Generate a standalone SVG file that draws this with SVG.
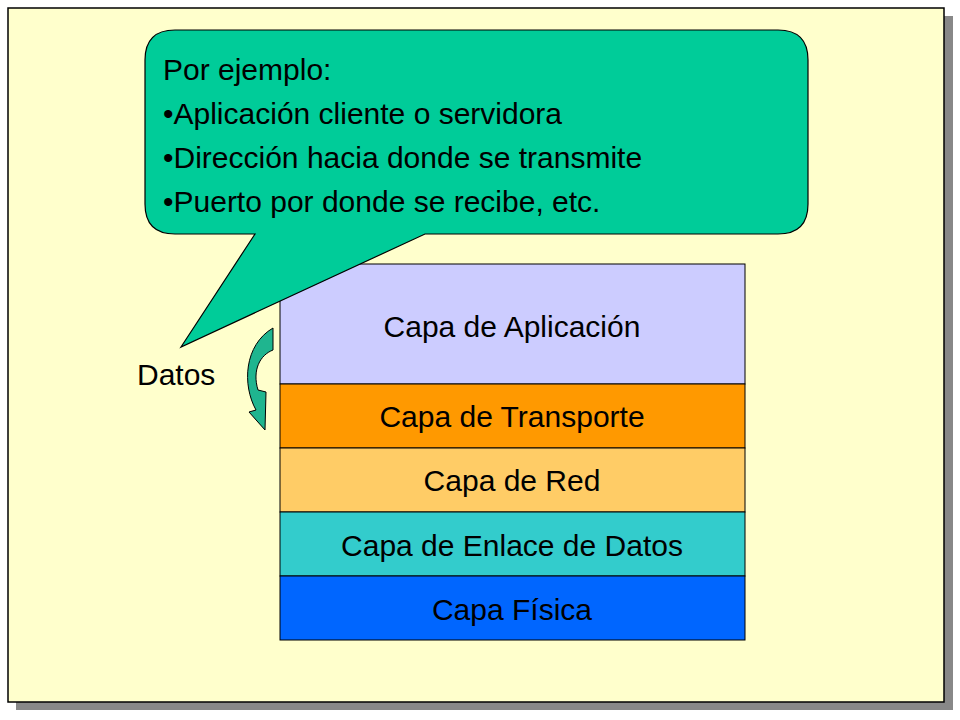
<svg xmlns="http://www.w3.org/2000/svg" width="960" height="720" viewBox="0 0 960 720">
<style>
text{font-family:"Liberation Sans",Arial,sans-serif;font-size:30px;fill:#000}
.layer{stroke:#000;stroke-width:1}
.c{text-anchor:middle}
</style>
<rect width="960" height="720" fill="#fff"/>
<rect x="16" y="16" width="937" height="694" fill="#888"/>
<rect id="frame" x="8" y="8" width="936" height="694" fill="#FFFFCC" stroke="#000" stroke-width="1.5"/>
<g id="stack">
<g id="aplicacion"><rect class="layer" x="280" y="264" width="465" height="120" fill="#CCCCFF"/><text class="c" x="512" y="337">Capa de Aplicación</text></g>
<g id="transporte"><rect class="layer" x="280" y="384" width="465" height="64" fill="#FF9900"/><text class="c" x="512" y="427">Capa de Transporte</text></g>
<g id="red"><rect class="layer" x="280" y="448" width="465" height="64" fill="#FFCC66"/><text class="c" x="512" y="491">Capa de Red</text></g>
<g id="enlace"><rect class="layer" x="280" y="512" width="465" height="64" fill="#33CCCC"/><text class="c" x="512" y="556">Capa de Enlace de Datos</text></g>
<g id="fisica"><rect class="layer" x="280" y="576" width="465" height="64" fill="#0066FF"/><text class="c" x="512" y="620">Capa Física</text></g>
</g>
<g id="datos"><text x="137" y="385">Datos</text></g>
<g id="connectors">
<path d="M273,328 L273,350 C260,355 252,370 258,390 L266,392 L265,430 L249,412 L256,410 C242,385 244,345 273,328 Z" fill="#1FB58F" stroke="#000" stroke-width="1"/>
</g>
<g id="callout">
<path d="M175,30 H778 Q808,30 808,60 V204 Q808,234 778,234 H425 L181,347 L255,234 H175 Q145,234 145,204 V60 Q145,30 175,30 Z" fill="#00CC99" stroke="#000" stroke-width="1.2"/>
<text x="163" y="80">Por ejemplo:</text>
<text x="163" y="124">•Aplicación cliente o servidora</text>
<text x="163" y="168">•Dirección hacia donde se transmite</text>
<text x="163" y="212">•Puerto por donde se recibe, etc.</text>
</g>
</svg>
